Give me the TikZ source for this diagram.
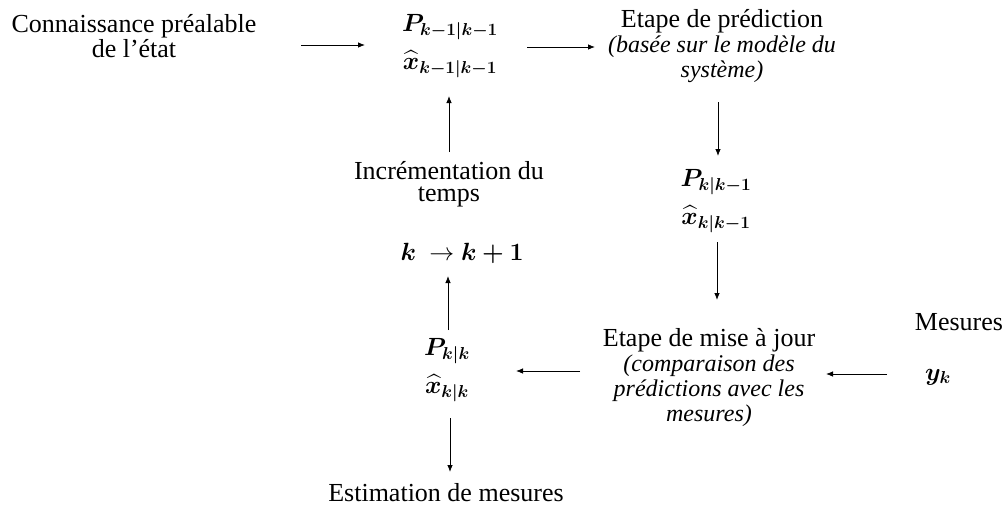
\documentclass[tikz,border=0pt]{standalone}
\usepackage{amsmath,bm}
\usepackage{fontspec}
\setmainfont{Liberation Serif}
\usetikzlibrary{arrows.meta}
\begin{document}
\begin{tikzpicture}[x=1pt,y=-1pt,
  txt/.style={font=\fontsize{26}{21.5}\selectfont, align=center, inner sep=0pt},
  blk/.style={font=\fontsize{26}{25}\selectfont, align=center, inner sep=0pt},
  mth/.style={font=\fontsize{26}{38}\selectfont, align=center, inner sep=0pt},
  arr/.style={-{Latex[length=7pt,width=5.5pt]}, line width=0.8pt},
]
\useasboundingbox (0,0) rectangle (1008,509);

% text nodes
\node[txt] (prior) at (134,36) {Connaissance préalable\\de l’état};
\node[mth] (p0) at (450,46) {$\bm{P}_{\bm{k-1|k-1}}$\\$\widehat{\bm{x}}_{\bm{k-1|k-1}}$};
\node[blk] (pred) at (722,46) {Etape de prédiction\\{\fontsize{24}{25}\selectfont\itshape (basée sur le modèle du}\\{\fontsize{24}{25}\selectfont\itshape système)}};
\node[mth] (p1) at (716,201) {$\bm{P}_{\bm{k|k-1}}$\\$\widehat{\bm{x}}_{\bm{k|k-1}}$};
\node[blk] (upd) at (709,378) {Etape de mise à jour\\{\fontsize{24}{25}\selectfont\itshape (comparaison des}\\{\fontsize{24}{25}\selectfont\itshape prédictions avec les}\\{\fontsize{24}{25}\selectfont\itshape mesures)}};
\node[txt] (mes) at (959,322) {Mesures};
\node[mth] (yk) at (938,377) {$\bm{y_k}$};
\node[mth] (p2) at (447,370) {$\bm{P}_{\bm{k|k}}$\\$\widehat{\bm{x}}_{\bm{k|k}}$};
\node[txt] (est) at (446,493) {Estimation de mesures};
\node[mth] (inc) at (462,253) {$\bm{k}\ \rightarrow \bm{k+1}$};
\node[txt] (tps) at (449,184) {Incrémentation du\\temps};

% connector ends
\coordinate (a1s) at (301,45); \coordinate (a1e) at (365,45);
\coordinate (a2s) at (527,47); \coordinate (a2e) at (595,47);
\coordinate (a3s) at (718,102); \coordinate (a3e) at (718,156);
\coordinate (a4s) at (717,242); \coordinate (a4e) at (717,300);
\coordinate (a5s) at (580,371); \coordinate (a5e) at (516,371);
\coordinate (a6s) at (887,374); \coordinate (a6e) at (826,374);
\coordinate (a7s) at (448,330); \coordinate (a7e) at (448,276);
\coordinate (a8s) at (449,152); \coordinate (a8e) at (449,96);
\coordinate (a9s) at (450,418); \coordinate (a9e) at (450,472);

\draw[arr] (a1s) -- (a1e);
\draw[arr] (a2s) -- (a2e);
\draw[arr] (a3s) -- (a3e);
\draw[arr] (a4s) -- (a4e);
\draw[arr] (a5s) -- (a5e);
\draw[arr] (a6s) -- (a6e);
\draw[arr] (a7s) -- (a7e);
\draw[arr] (a8s) -- (a8e);
\draw[arr] (a9s) -- (a9e);
\end{tikzpicture}
\end{document}
